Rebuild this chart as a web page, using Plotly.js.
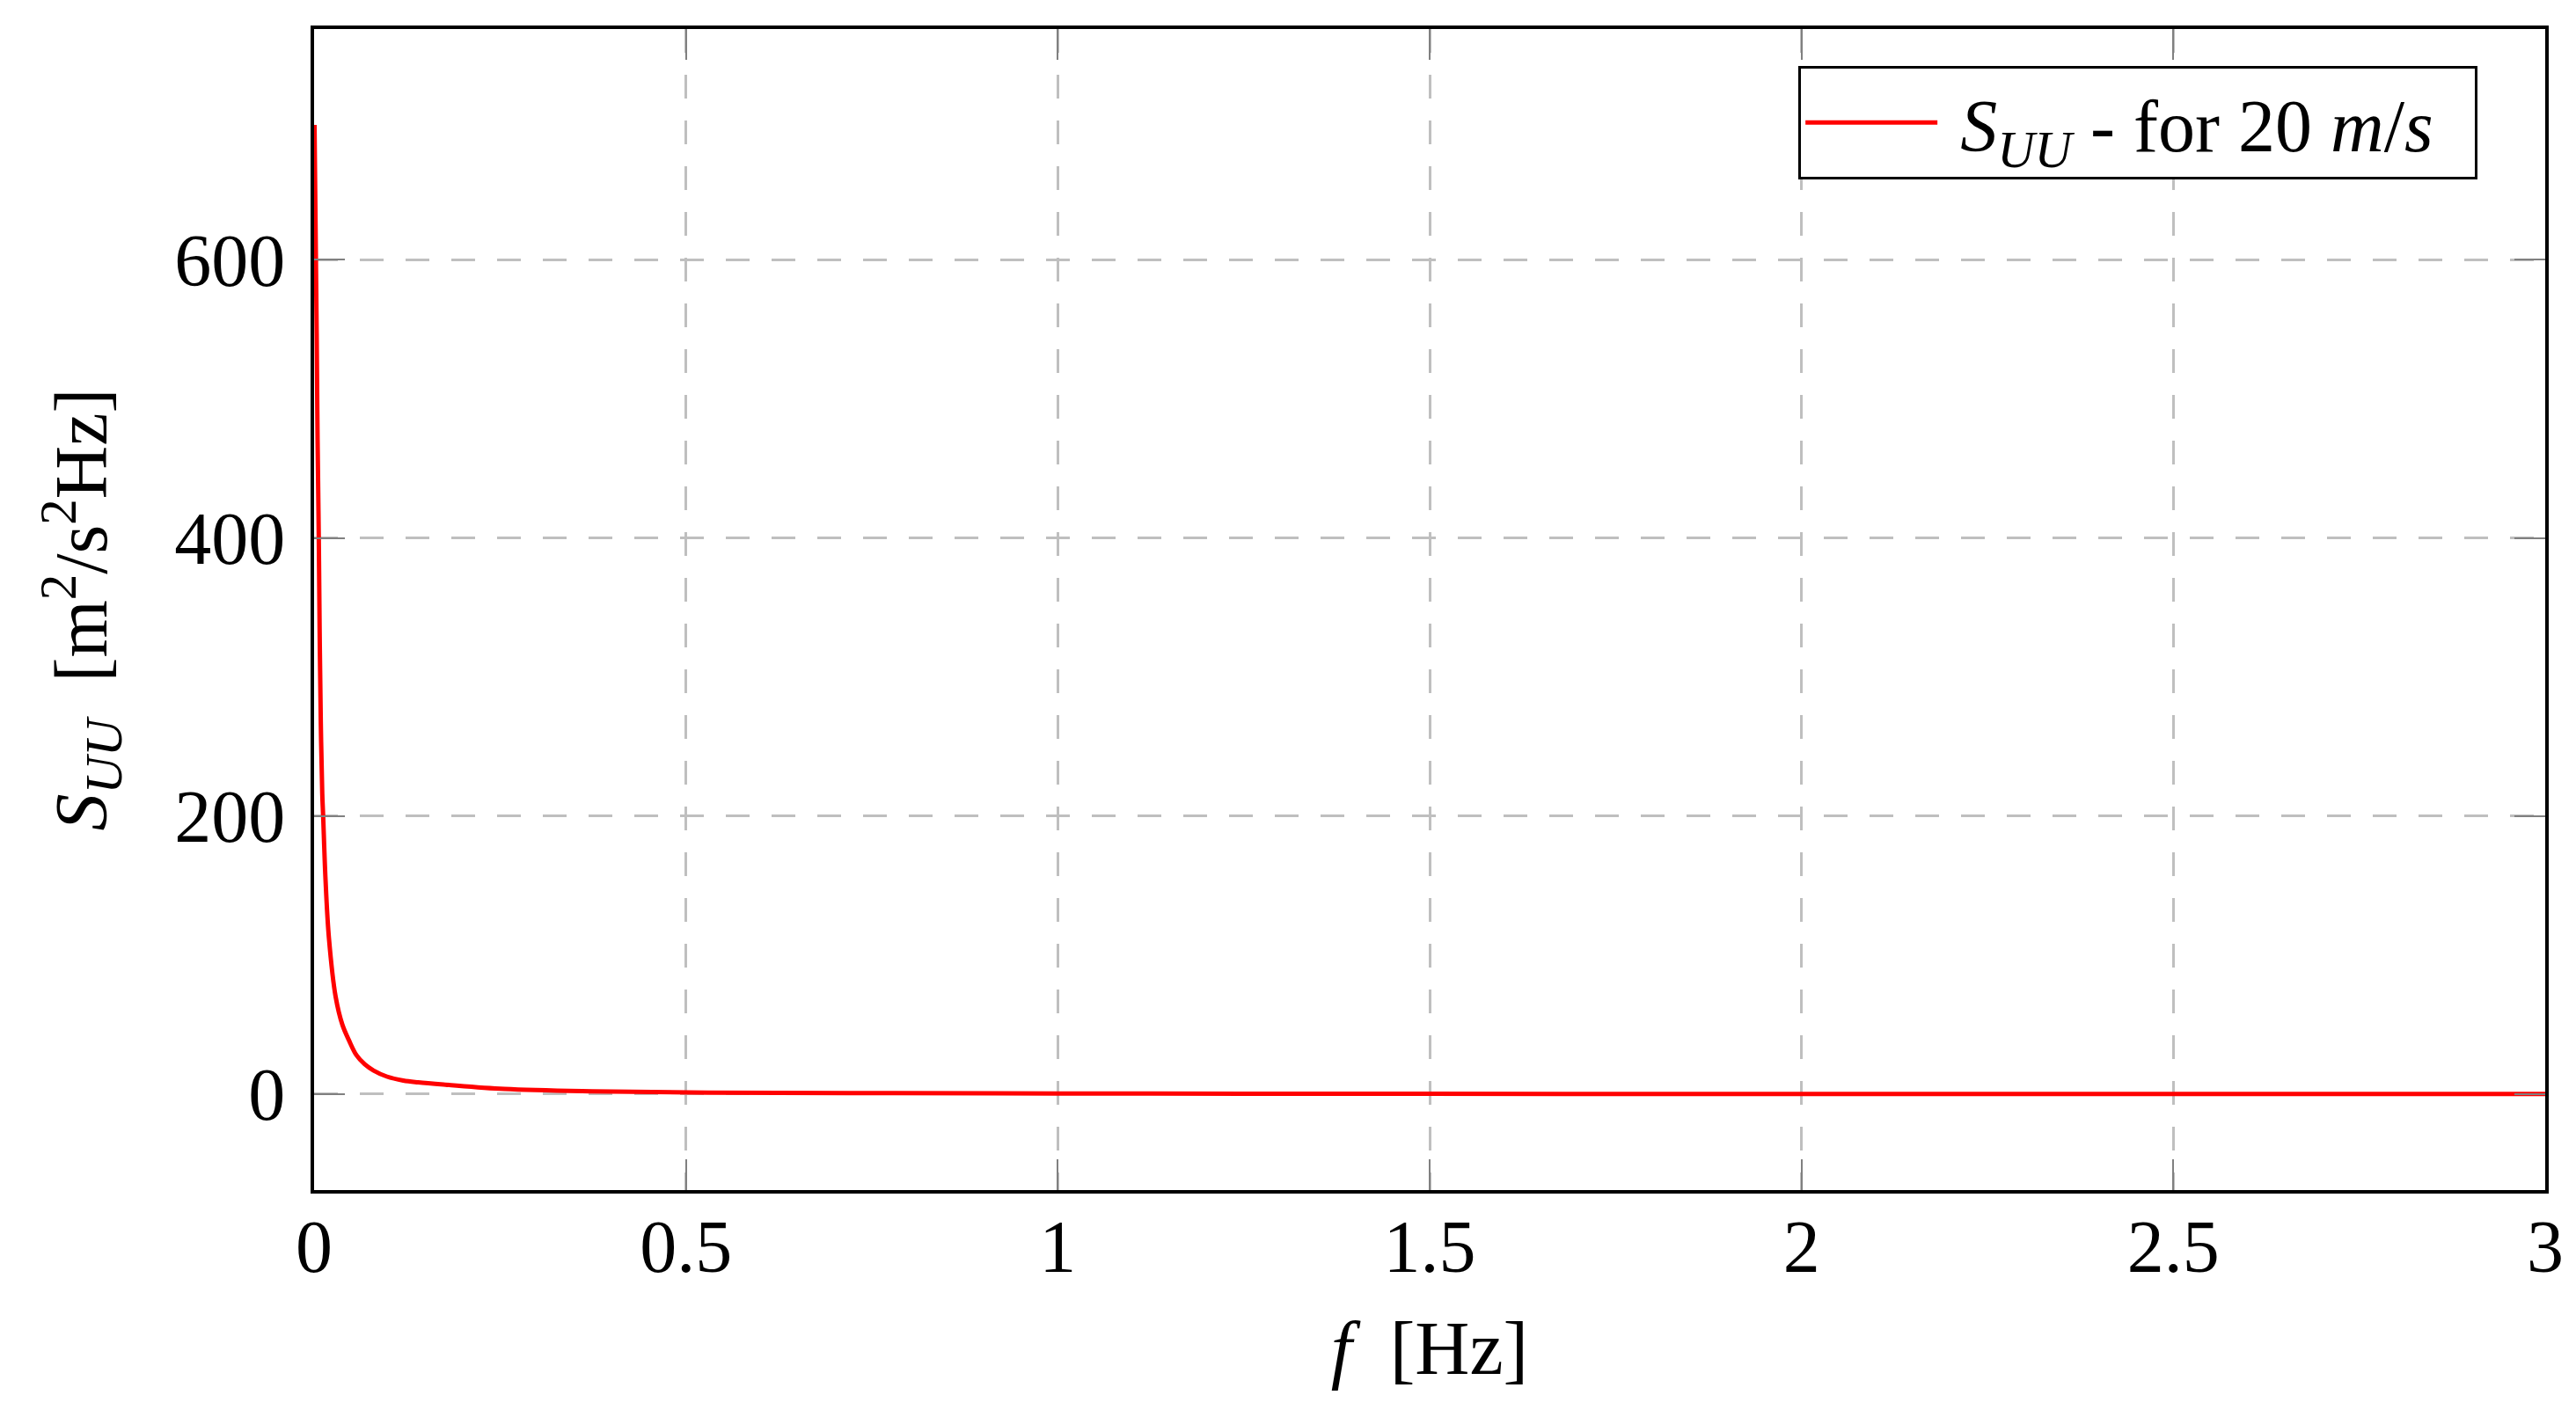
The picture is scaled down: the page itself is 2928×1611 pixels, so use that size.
<!DOCTYPE html>
<html>
<head>
<meta charset="utf-8">
<script src="https://cdn.plot.ly/plotly-3.0.1.min.js"></script>
<style>html,body{margin:0;padding:0;background:#fff;}</style>
</head>
<body>
<div id="chart" style="width:2928px;height:1611px;"></div>
<script>
// Frequency [Hz] and spectral density S_UU [m^2/(s^2 Hz)]
const freq = [0.0006, 0.0035, 0.0047, 0.0063, 0.0075, 0.009, 0.011, 0.0122, 0.0154, 0.020, 0.029, 0.038, 0.047, 0.057, 0.068, 0.080, 0.098, 0.12, 0.14, 0.177, 0.256, 0.374, 0.53, 0.75, 1.0, 1.25, 1.5, 2.0, 2.5, 3.0];
const suu  = [697, 547, 471, 401, 332, 268, 216, 200, 154, 112, 70, 50, 38.6, 28, 21.5, 17, 12.6, 9.8, 8.5, 6.8, 3.7, 2, 1.1, 0.7, 0.45, 0.3, 0.22, 0.13, 0.09, 0.06];
const xTicks = [0, 0.5, 1, 1.5, 2, 2.5, 3];
const xTickLabels = ["0", "0.5", "1", "1.5", "2", "2.5", "3"];
const yTicks = [0, 200, 400, 600];
const yTickLabels = ["0", "200", "400", "600"];
const seriesName = "&nbsp;<i>S</i><sub><i>UU</i></sub> - for 20 <i>m</i>/<i>s</i>&nbsp;&nbsp;";

const FONT = "Liberation Serif, DejaVu Serif, serif";

const trace = {
  x: freq, y: suu, type: "scatter", mode: "lines",
  name: seriesName,
  line: {color: "#ff0000", width: 5, shape: "spline", smoothing: 1}
};

const gridCommon = {
  showgrid: true, gridcolor: "#bfbfbf", gridwidth: 3, griddash: "27px,25px",
  zeroline: false,
  showline: true, linecolor: "#000", linewidth: 4, mirror: "allticks",
  ticks: "inside", ticklen: 35, tickwidth: 2, tickcolor: "#808080",
  tickfont: {family: FONT, size: 84, color: "#000"}
};

const layout = {
  width: 2928, height: 1611,
  margin: {l: 357, r: 35, t: 33, b: 258, pad: 0},
  paper_bgcolor: "#fff", plot_bgcolor: "#fff",
  font: {family: FONT, color: "#000"},
  showlegend: true,
  xaxis: Object.assign({}, gridCommon, {
    range: [0, 3], tickvals: xTicks, ticktext: xTickLabels,
    ticklabelstandoff: -12,
    title: {text: "<i>f</i>  [Hz]", font: {family: FONT, size: 86}, standoff: 40}
  }),
  yaxis: Object.assign({}, gridCommon, {
    range: [-69, 766], tickvals: yTicks, ticktext: yTickLabels,
    ticklabelstandoff: 12,
    title: {text: "<i>S</i><sub><i>UU</i></sub>  [m<sup>2</sup>/s<sup>2</sup>Hz]", font: {family: FONT, size: 84}, standoff: 50}
  }),
  legend: {
    x: 0.9697, y: 0.968, xanchor: "right", yanchor: "top",
    bgcolor: "#fff", bordercolor: "#000", borderwidth: 3,
    font: {family: FONT, size: 84, color: "#000"},
    itemwidth: 150
  }
};

Plotly.newPlot("chart", [trace], layout, {displayModeBar: false, staticPlot: true});
</script>
</body>
</html>
